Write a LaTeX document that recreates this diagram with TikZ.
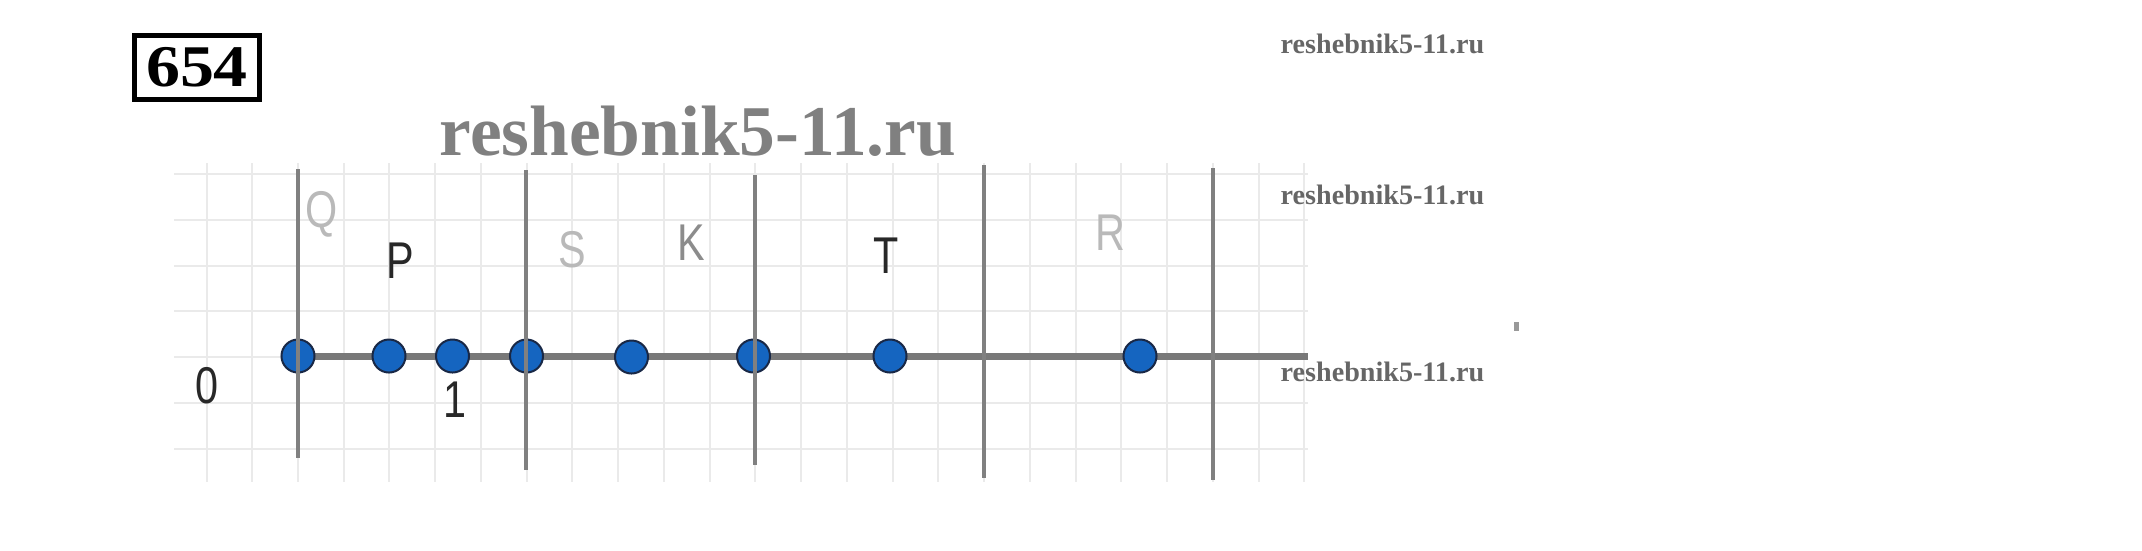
\documentclass[tikz,border=0pt]{standalone}
\usepackage{fontspec}
\setmainfont{Liberation Serif}
\newfontfamily\lblfont{Liberation Sans}
\usetikzlibrary{positioning}

\definecolor{ptblue}{RGB}{21,101,192}
\definecolor{ptedge}{RGB}{25,40,70}
\definecolor{gridgray}{RGB}{234,234,234}
\definecolor{linegray}{RGB}{128,128,128}
\definecolor{axisgray}{RGB}{120,120,120}
\definecolor{faintlbl}{RGB}{185,185,185}
\definecolor{darklbl}{RGB}{40,40,40}

\newcommand{\thinlbl}[1]{\scalebox{0.8}[1]{#1}}

\begin{document}
\begin{tikzpicture}[x=0.01cm, y=-0.01cm,
    gridline/.style={draw=gridgray, line width=0.02cm},
    bound/.style={draw=linegray, line width=0.045cm},
    numline/.style={draw=axisgray, line width=0.07cm},
    pt/.style={circle, fill=ptblue, draw=ptedge, line width=0.02cm, minimum size=0.33cm, inner sep=0pt},
    lbl/.style={font=\lblfont\fontsize{14.7}{16}\selectfont, anchor=base, inner sep=0pt},
    wmark/.style={font=\bfseries\fontsize{8}{9}\selectfont, text=black!60, anchor=base west, inner sep=0pt}]
    \useasboundingbox (0,0) rectangle (2142,550);

    % squared paper
    \foreach \k in {-2,...,22}
      \draw[gridline] ({298+45.74*\k},163) -- ({298+45.74*\k},482);
    \foreach \row in {174,220,265.5,311,357,403,449}
      \draw[gridline] (174,\row) -- (1308,\row);

    % number line
    \coordinate (axisL) at (298,356);
    \coordinate (axisR) at (1308,356);
    \draw[numline] (axisL) -- (axisR);

    \node[pt] (q) at (298,356) {};
    \node[pt] (p) at (389,356) {};
    \node[pt] (one) at (452.5,356) {};
    \node[pt] (s) at (526.5,356) {};
    \node[pt] (k) at (631.5,357) {};
    \node[pt] (m) at (753.5,356) {};
    \node[pt] (t) at (890,356) {};
    \node[pt] (r) at (1140,356) {};

    % vertical bounds
    \foreach \x/\top/\bot in {298/169/458, 526/170/470, 755/175/465, 984/165/478, 1213/168/480}
      \draw[bound] (\x,\top) -- (\x,\bot);

    % labels
    \node[lbl, text=faintlbl] (lq) at (322,227) {\thinlbl{Q}};
    \node[lbl, text=darklbl] (lp) at (400,278) {\thinlbl{P}};
    \node[lbl, text=faintlbl] (ls) at (572,267) {\thinlbl{S}};
    \node[lbl, text=black!45] (lk) at (691,260) {\thinlbl{K}};
    \node[lbl, text=darklbl] (lt) at (886,273) {\thinlbl{T}};
    \node[lbl, text=faintlbl] (lr) at (1110,250) {\thinlbl{R}};
    \node[lbl, text=darklbl] (lzero) at (207,403) {\thinlbl{0}};
    \node[lbl, text=darklbl] (lone) at (455,417) {\thinlbl{1}};

    % task number
    \node[draw, line width=0.05cm, minimum width=1.25cm, minimum height=0.64cm, inner sep=0pt,
          font=\bfseries\fontsize{16.8}{18}\selectfont] (num) at (197,67.5) {\scalebox{1.15}[1]{654}};

    % watermarks
    \node[font=\bfseries\fontsize{20.3}{22}\selectfont, text=black!50, anchor=base west, inner sep=0pt]
      (wmbig) at (439,155) {reshebnik5-11.ru};
    \node[wmark] (wm1) at (1280,53) {reshebnik5-11.ru};
    \node[wmark] (wm2) at (1280,204) {reshebnik5-11.ru};
    \node[wmark] (wm3) at (1280,381) {reshebnik5-11.ru};
    \fill[black!40] (1514,322) rectangle (1519,331);
\end{tikzpicture}
\end{document}
